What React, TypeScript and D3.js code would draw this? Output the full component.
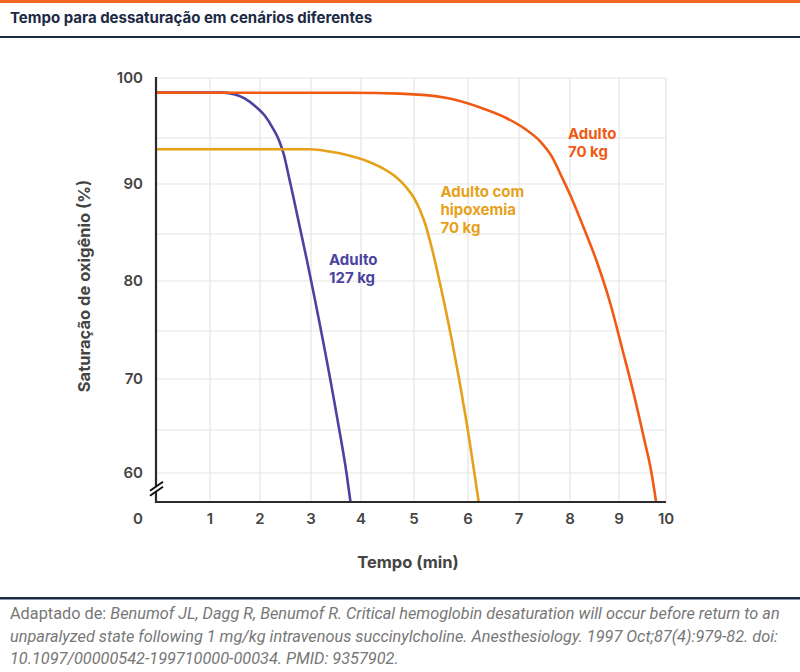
import React from "react";
import * as d3 from "d3";

const title = "Tempo para dessaturação em cenários diferentes";
const xTicks = [0, 1, 2, 3, 4, 5, 6, 7, 8, 9, 10];
const yTicks = [60, 70, 80, 90, 100];
const yGrid = [60, 65, 70, 75, 80, 85, 90, 95, 100];

// [minutes, SpO2 %]
const adult127: [number, number][] = [
  [0, 98.78], [1.26, 98.78], [1.5, 98.63], [1.7, 98.29], [1.9, 97.67], [2.1, 96.83],
  [2.25, 95.83], [2.37, 94.78], [2.47, 93.15], [2.55, 91.2], [2.65, 88.8],
  [2.92, 82.2], [3.53, 66.0], [3.71, 60], [3.79, 56.6],
];
const adultHypox: [number, number][] = [
  [0, 93.77], [2.98, 93.77], [3.37, 93.53], [3.76, 93.1], [4.11, 92.5], [4.4, 91.74],
  [4.66, 90.76], [4.85, 89.7], [5.0, 88.6], [5.11, 87.4], [5.22, 85.8], [5.33, 83.51],
  [5.48, 79.8], [5.7, 74.06], [5.96, 66.18], [6.21, 56.6],
];
const adult70: [number, number][] = [
  [0, 98.78], [3.78, 98.77], [4.74, 98.7], [5.61, 98.33], [6.24, 97.54], [6.73, 96.71],
  [7.12, 95.75], [7.41, 94.67], [7.65, 92.93], [7.84, 90.76], [8.04, 88.5], [8.265, 85.8],
  [8.55, 82.02], [8.82, 77.8], [9.064, 73.23], [9.32, 68.43], [9.53, 64.07], [9.68, 60.35],
  [9.79, 56.6],
];

const series = [
  { name: "a127", data: adult127, color: "#4a43a0", label: ["Adulto", "127 kg"], lx: 3.36, ly: 81.65 },
  { name: "hyp", data: adultHypox, color: "#e6a11a", label: ["Adulto com", "hipoxemia", "70 kg"], lx: 5.49, ly: 88.7 },
  { name: "a70", data: adult70, color: "#f05a14", label: ["Adulto", "70 kg"], lx: 7.96, ly: 94.84 },
];

const footerLines = [
  [{ t: "Adaptado de: ", i: false }, { t: "Benumof JL, Dagg R, Benumof R. Critical hemoglobin desaturation will occur before return to an", i: true }],
  [{ t: "unparalyzed state following 1 mg/kg intravenous succinylcholine. Anesthesiology. 1997 Oct;87(4):979-82. doi:", i: true }],
  [{ t: "10.1097/00000542-199710000-00034. PMID: 9357902.", i: true }],
];

export default function App() {
  const W = 800, H = 672;
  const x = d3.scaleLinear()
    .domain(xTicks)
    .range([156, 210, 260, 311, 361, 414, 468, 519, 570, 619, 666]);
  const y = d3.scaleLinear()
    .domain([56.6, 60, 65, 70, 75, 80, 85, 90, 95, 100])
    .range([502, 473, 430, 379, 331, 281, 234, 184, 138, 78]);
  const line = d3.line<[number, number]>()
    .x(d => x(d[0]))
    .y(d => y(d[1]))
    .curve(d3.curveMonotoneX);
  const font = "Inter, 'Noto Sans', sans-serif";
  const x0 = x(0), xr = x(10), yb = y(56.6), yt = y(100);
  const by = y(58.5);

  return (
    <svg width={W} height={H} style={{ position: "absolute", left: 0, top: 0, background: "#fff" }} fontFamily={font}>
      <rect x={0} y={0} width={W} height={H} fill="#fff" />
      <rect x={0} y={0} width={W} height={3} fill="#f26522" />
      <text x={10} y={23} fontSize={15} fontWeight={700} fill="#1c2a45">{title}</text>
      <rect x={0} y={36} width={W} height={2} fill="#1c2a45" />

      {/* grid */}
      {yGrid.map(v => (
        <line key={"gy" + v} x1={x0} x2={xr} y1={y(v)} y2={y(v)} stroke="#e5e5e5" strokeWidth={1.2} />
      ))}
      {xTicks.filter(t => t > 0).map(t => (
        <line key={"gx" + t} x1={x(t)} x2={x(t)} y1={yt} y2={yb} stroke="#e5e5e5" strokeWidth={1.2} />
      ))}

      {/* curves */}
      {series.map(s => (
        <path key={s.name} d={line(s.data) || ""} fill="none" stroke={s.color} strokeWidth={2.6} />
      ))}
      {series.map(s => (
        <text key={"l" + s.name} x={x(s.lx)} y={y(s.ly)} fontSize={15} fontWeight={700} fill={s.color}>
          {s.label.map((l, i) => (
            <tspan key={i} x={x(s.lx)} dy={i === 0 ? 0 : 17.8}>{l}</tspan>
          ))}
        </text>
      ))}

      {/* axes */}
      <line x1={x0} x2={x0} y1={yt - 1} y2={yb + 1} stroke="#2b2b2b" strokeWidth={2.2} />
      <line x1={x0 - 1} x2={xr} y1={yb} y2={yb} stroke="#2b2b2b" strokeWidth={2.2} />
      {/* axis break */}
      <polygon points={`${x0 - 4},${by + 4} ${x0 + 4},${by - 2} ${x0 + 4},${by + 3} ${x0 - 4},${by + 9}`} fill="#fff" />
      <line x1={x0 - 6} y1={by + 5} x2={x0 + 7} y2={by - 4} stroke="#111" strokeWidth={2} />
      <line x1={x0 - 6} y1={by + 10} x2={x0 + 7} y2={by + 1} stroke="#111" strokeWidth={2} />

      {/* tick labels */}
      {yTicks.map(v => (
        <text key={"yt" + v} x={143} y={y(v)} dy="0.35em" textAnchor="end" fontSize={15} fontWeight={600} fill="#444">{v}</text>
      ))}
      {xTicks.map(t => (
        <text key={"xt" + t} x={t === 0 ? x0 - 18 : x(t)} y={519} dy="0.35em" textAnchor="middle" fontSize={15} fontWeight={600} fill="#444">{t}</text>
      ))}

      <text x={408} y={562} dy="0.35em" textAnchor="middle" fontSize={16.5} fontWeight={700} fill="#444">Tempo (min)</text>
      <text transform={`translate(84,286) rotate(-90)`} dy="0.35em" textAnchor="middle" fontSize={16.5} fontWeight={700} fill="#444">Saturação de oxigênio (%)</text>

      <rect x={0} y={597} width={W} height={2.5} fill="#1c2a45" />
      {footerLines.map((ln, i) => (
        <text key={"f" + i} x={10} y={619 + i * 22.5} fontSize={16.3} fill="#777" fontFamily="Roboto, sans-serif">
          {ln.map((p, j) => (
            <tspan key={j} fontStyle={p.i ? "italic" : "normal"}>{p.t}</tspan>
          ))}
        </text>
      ))}
    </svg>
  );
}
